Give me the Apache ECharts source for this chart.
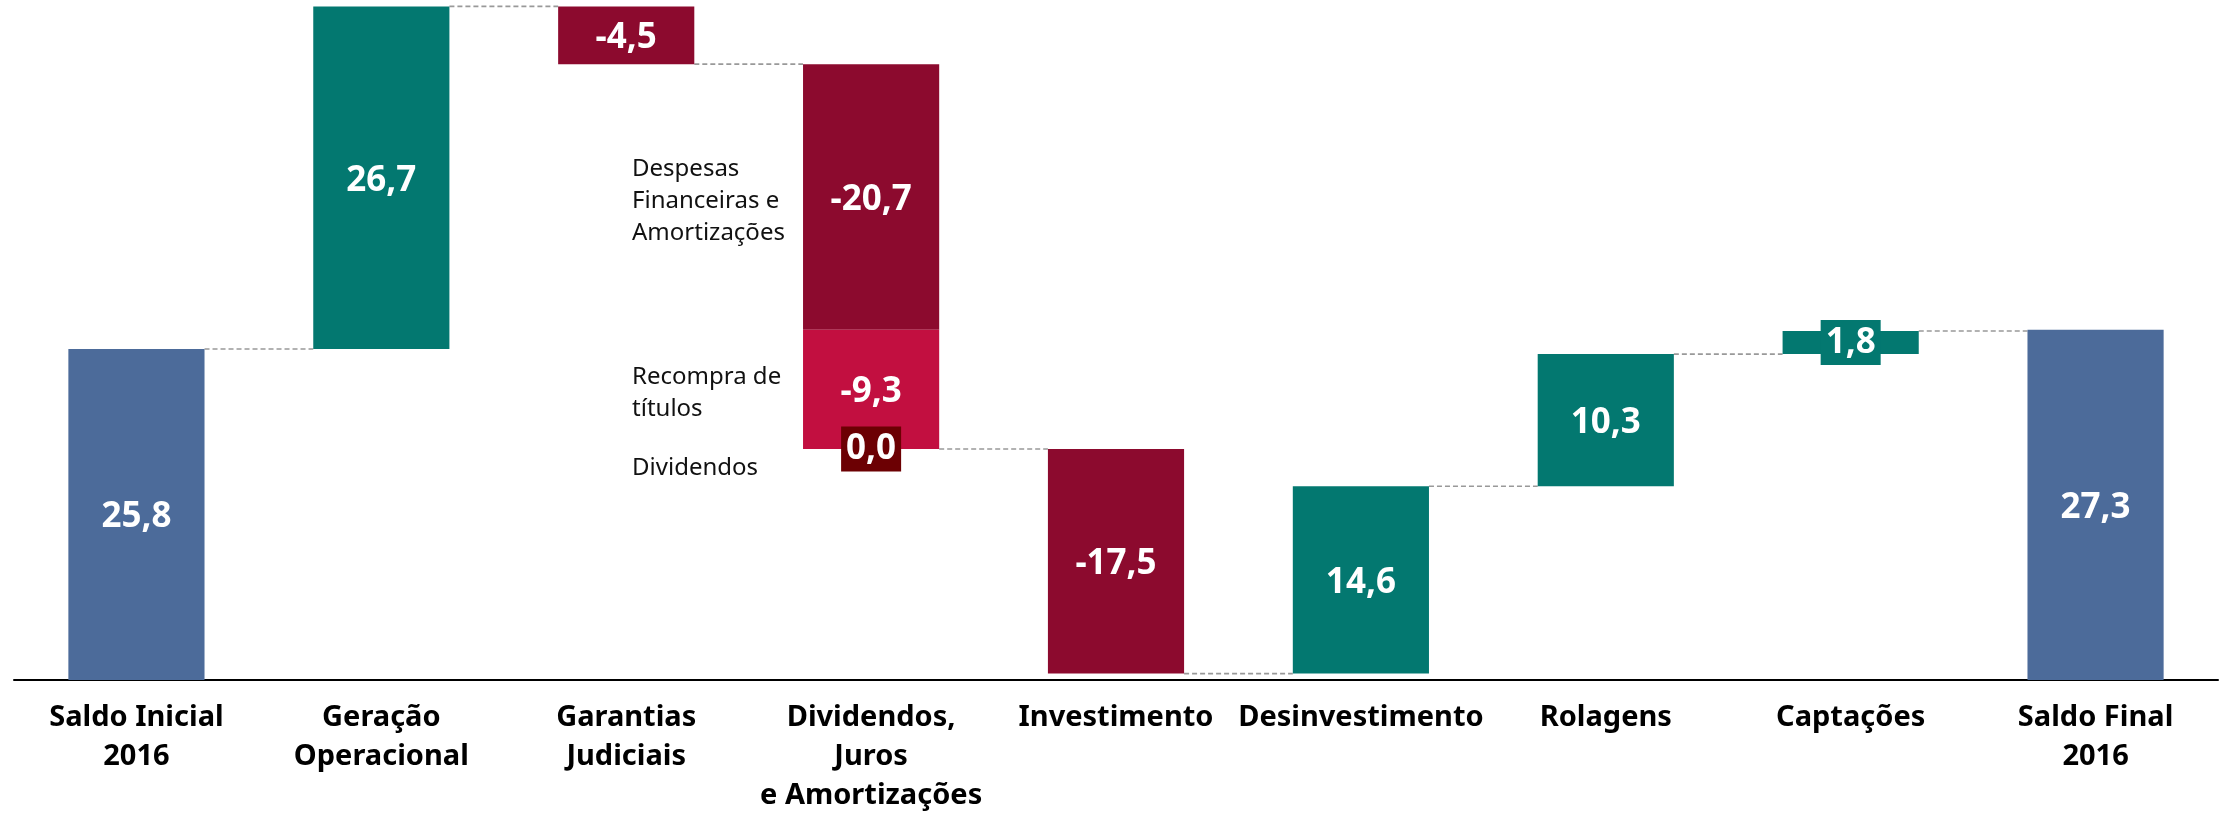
<!DOCTYPE html>
<html>
<head>
<meta charset="utf-8">
<script src="https://cdn.jsdelivr.net/npm/echarts@6/dist/echarts.min.js"></script>
<style>
  html, body { margin: 0; padding: 0; background: #fff; }
  #chart { width: 2222px; height: 815px; }
</style>
</head>
<body>
<div id="chart"></div>
<script>
// categorias do eixo x
const categories = [
    'Saldo Inicial\n2016',
    'Geração\nOperacional',
    'Garantias\nJudiciais',
    'Dividendos,\nJuros\ne Amortizações',
    'Investimento',
    'Desinvestimento',
    'Rolagens',
    'Captações',
    'Saldo Final\n2016'
];

// saldos (US$ bi)
const saldoInicial = 25.8;
const saldoFinal = 27.3;

// fluxos intermediarios, com a categoria a que pertencem
const fluxos = [26.7, -4.5, -20.7, -9.3, 0.0, -17.5, 14.6, 10.3, 1.8];
const fluxoCategoria = [1, 2, 3, 3, 3, 4, 5, 6, 7];
const fluxoNotas = ['', '', 'Despesas\nFinanceiras e\nAmortizações', 'Recompra de\ntítulos', 'Dividendos', '', '', '', ''];

const BLUE = '#4c6b9a';
const TEAL = '#037870';
const RED = '#8c0a2e';
const subShades = [RED, '#c20f40', '#6c0003'];
const FONT = '"Noto Sans", "Open Sans", sans-serif';

// monta os segmentos da cascata
const segs = [{ cat: 0, from: 0, to: saldoInicial, value: saldoInicial, color: BLUE, note: '' }];
let run = saldoInicial;
const partIdx = {};
fluxos.forEach(function (v, i) {
    const c = fluxoCategoria[i];
    const k = partIdx[c] = (partIdx[c] === undefined ? 0 : partIdx[c] + 1);
    const color = k > 0 ? subShades[k] : (v > 0 ? TEAL : RED);
    segs.push({ cat: c, from: run, to: run + v, value: v, color: color, note: fluxoNotas[i] });
    run += v;
});
segs.push({ cat: 8, from: 0, to: saldoFinal, value: saldoFinal, color: BLUE, note: '' });

// linhas tracejadas entre barras
const links = [];
for (let c = 0; c < categories.length - 1; c++) {
    const last = segs.filter(s => s.cat === c).pop();
    links.push([c, c + 1, last.to]);
}

function fmt(v) {
    return v.toFixed(1).replace('.', ',');
}

const BAR_RATIO = 0.556;

const chart = echarts.init(document.getElementById('chart'));

chart.setOption({
    animation: false,
    grid: { left: 14, right: 4, top: 0, bottom: 135 },
    xAxis: {
        type: 'category',
        data: categories,
        boundaryGap: true,
        axisLine: { lineStyle: { color: '#000', width: 2 } },
        axisTick: { show: false },
        axisLabel: {
            interval: 0,
            color: '#000',
            fontFamily: FONT,
            fontWeight: 'bold',
            fontSize: 29,
            lineHeight: 39,
            margin: 18
        }
    },
    yAxis: { type: 'value', min: 0, max: 53, show: false },
    series: [
        {
            type: 'custom',
            clip: false,
            z: 1,
            data: links,
            encode: { x: 0, y: 2 },
            renderItem: function (params, api) {
                const p1 = api.coord([api.value(0), api.value(2)]);
                const p2 = api.coord([api.value(1), api.value(2)]);
                const w = api.size([1, 0])[0] * BAR_RATIO;
                return {
                    type: 'line',
                    shape: { x1: p1[0] + w / 2, y1: p1[1], x2: p2[0] - w / 2, y2: p2[1] },
                    style: { stroke: '#999', lineWidth: 1.6, lineDash: [5, 3] }
                };
            }
        },
        {
            type: 'custom',
            clip: false,
            z: 2,
            data: segs.map((s, i) => [s.cat, s.from, s.to, i]),
            encode: { x: 0, y: [1, 2] },
            renderItem: function (params, api) {
                const s = segs[api.value(3)];
                const p1 = api.coord([api.value(0), api.value(1)]);
                const p2 = api.coord([api.value(0), api.value(2)]);
                const w = api.size([1, 0])[0] * BAR_RATIO;
                const top = Math.min(p1[1], p2[1]);
                const h = Math.abs(p1[1] - p2[1]);
                const small = h < 45;
                const children = [];
                children.push({
                    type: 'rect',
                    shape: { x: p1[0] - w / 2, y: top, width: w, height: h },
                    style: { fill: s.color }
                });
                const labelStyle = {
                    text: fmt(s.value),
                    fill: '#fff',
                    font: 'bold 35px ' + FONT,
                    lineHeight: 35,
                    align: 'center',
                    verticalAlign: 'middle'
                };
                if (small) {
                    labelStyle.backgroundColor = s.color;
                    labelStyle.padding = [5, 5];
                }
                children.push({ type: 'text', x: p1[0], y: top + h / 2 + (small ? 0 : 3), z2: 5, style: labelStyle });
                if (s.note) {
                    children.push({
                        type: 'text',
                        x: p1[0] - w / 2 - 171,
                        y: top + h / 2 + (h < 1 ? 19 : 4),
                        style: {
                            text: s.note,
                            fill: '#111',
                            font: '24px ' + FONT,
                            lineHeight: 32,
                            align: 'left',
                            verticalAlign: 'middle'
                        }
                    });
                }
                return { type: 'group', children: children };
            }
        }
    ]
});
</script>
</body>
</html>
